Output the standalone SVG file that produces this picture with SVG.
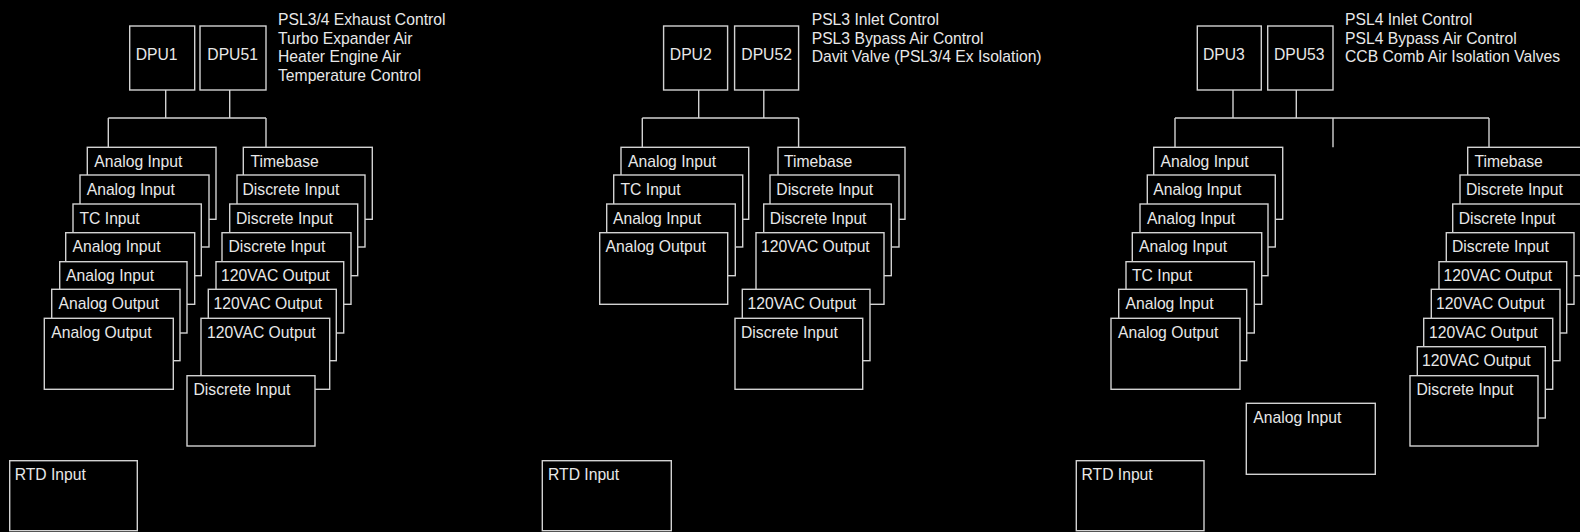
<svg xmlns="http://www.w3.org/2000/svg" width="1580" height="532" viewBox="0 0 1580 532">
<style>
.b{fill:#000;stroke:#d2d2d2;stroke-width:1.4}
.c{fill:none;stroke:#d2d2d2;stroke-width:1.4}
text{font-family:"Liberation Sans",Arial,sans-serif;font-size:15.7px;fill:#e8e8e8}
</style>
<rect x="0" y="0" width="1580" height="532" fill="#000"/>
<g id="connectors">
<path class="c" d="M165.7 90V118M229.7 90V118M108.3 118H266M108.3 118V147.3M266 118V147.3"/>
<path class="c" d="M698.7 90V118M763.8 90V118M642.3 118H798.6M642.3 118V147.3M798.6 118V147.3"/>
<path class="c" d="M1233 90V118M1296.3 90V118M1175 118H1489M1175 118V147.3M1333 118V147.3M1489 118V147.3"/>
</g>
<g id="sec1">
<g id="dpu1"><rect class="b" x="129.7" y="26" width="65" height="64"/><text x="135.7" y="60">DPU1</text></g>
<g id="dpu51"><rect class="b" x="200" y="26" width="66" height="64"/><text x="207.3" y="60">DPU51</text></g>
<g id="desc1"><text x="278" y="25">PSL3/4 Exhaust Control</text><text x="278" y="43.7">Turbo Expander Air</text><text x="278" y="62.4">Heater Engine Air</text><text x="278" y="81">Temperature Control</text></g>
<g id="s1a1"><rect class="b" x="87.3" y="147.3" width="128.7" height="72"/><text x="94.3" y="166.7">Analog Input</text></g>
<g id="s1a2"><rect class="b" x="80" y="175" width="129" height="72"/><text x="86.7" y="194.5">Analog Input</text></g>
<g id="s1a3"><rect class="b" x="73" y="204" width="128.3" height="71.7"/><text x="79.5" y="223.5">TC Input</text></g>
<g id="s1a4"><rect class="b" x="65.7" y="232.7" width="129" height="71.6"/><text x="72.5" y="252">Analog Input</text></g>
<g id="s1a5"><rect class="b" x="59.7" y="261.7" width="127.3" height="71.3"/><text x="66" y="280.8">Analog Input</text></g>
<g id="s1a6"><rect class="b" x="51.7" y="289.3" width="128.3" height="71.4"/><text x="58.5" y="308.8">Analog Output</text></g>
<g id="s1a7"><rect class="b" x="44.3" y="318.3" width="129" height="71"/><text x="51.3" y="337.6">Analog Output</text></g>
<g id="s1b1"><rect class="b" x="243.3" y="147.3" width="129" height="72"/><text x="250.5" y="166.7">Timebase</text></g>
<g id="s1b2"><rect class="b" x="237" y="175" width="128" height="72"/><text x="242.5" y="194.5">Discrete Input</text></g>
<g id="s1b3"><rect class="b" x="229.7" y="204" width="128" height="71.7"/><text x="236" y="223.5">Discrete Input</text></g>
<g id="s1b4"><rect class="b" x="222" y="232.7" width="129" height="71.6"/><text x="228.5" y="252">Discrete Input</text></g>
<g id="s1b5"><rect class="b" x="216" y="261.7" width="127.7" height="71.3"/><text x="221" y="280.8">120VAC Output</text></g>
<g id="s1b6"><rect class="b" x="208.3" y="289.3" width="128" height="71.4"/><text x="213.5" y="308.8">120VAC Output</text></g>
<g id="s1b7"><rect class="b" x="201" y="318.3" width="128.7" height="71"/><text x="207" y="337.6">120VAC Output</text></g>
<g id="s1b8"><rect class="b" x="187" y="375.7" width="128" height="70.3"/><text x="193.5" y="394.8">Discrete Input</text></g>
<g id="rtd1"><rect class="b" x="9.7" y="460.7" width="127.6" height="70"/><text x="14.7" y="480">RTD Input</text></g>
</g>
<g id="sec2">
<g id="dpu2"><rect class="b" x="663.6" y="26" width="64" height="64"/><text x="669.8" y="60">DPU2</text></g>
<g id="dpu52"><rect class="b" x="734.6" y="26" width="64" height="64"/><text x="741.3" y="60">DPU52</text></g>
<g id="desc2"><text x="811.7" y="25">PSL3 Inlet Control</text><text x="811.7" y="43.7">PSL3 Bypass Air Control</text><text x="811.7" y="62.4">Davit Valve (PSL3/4 Ex Isolation)</text></g>
<g id="s2a1"><rect class="b" x="621" y="147.3" width="127.7" height="72"/><text x="628" y="166.7">Analog Input</text></g>
<g id="s2a2"><rect class="b" x="613.7" y="175" width="129" height="72"/><text x="620.5" y="194.5">TC Input</text></g>
<g id="s2a3"><rect class="b" x="606.7" y="204" width="128.6" height="71.7"/><text x="613" y="223.5">Analog Input</text></g>
<g id="s2a4"><rect class="b" x="599.7" y="232.7" width="128" height="71.6"/><text x="605.5" y="252">Analog Output</text></g>
<g id="s2b1"><rect class="b" x="778" y="147.3" width="127" height="72"/><text x="784" y="166.7">Timebase</text></g>
<g id="s2b2"><rect class="b" x="770" y="175" width="129" height="72"/><text x="776.3" y="194.5">Discrete Input</text></g>
<g id="s2b3"><rect class="b" x="763.7" y="204" width="127.6" height="71.7"/><text x="769.7" y="223.5">Discrete Input</text></g>
<g id="s2b4"><rect class="b" x="756" y="232.7" width="128" height="71.6"/><text x="761" y="252">120VAC Output</text></g>
<g id="s2b5"><rect class="b" x="742.3" y="289.3" width="127.7" height="71.4"/><text x="747.5" y="308.8">120VAC Output</text></g>
<g id="s2b6"><rect class="b" x="735" y="318.3" width="127.7" height="71"/><text x="741" y="337.6">Discrete Input</text></g>
<g id="rtd2"><rect class="b" x="542.3" y="460.7" width="129" height="70"/><text x="548" y="480">RTD Input</text></g>
</g>
<g id="sec3">
<g id="dpu3"><rect class="b" x="1197.3" y="26" width="64" height="64"/><text x="1203" y="60">DPU3</text></g>
<g id="dpu53"><rect class="b" x="1267.7" y="26" width="65.3" height="64"/><text x="1274" y="60">DPU53</text></g>
<g id="desc3"><text x="1345" y="25">PSL4 Inlet Control</text><text x="1345" y="43.7">PSL4 Bypass Air Control</text><text x="1345" y="62.4">CCB Comb Air Isolation Valves</text></g>
<g id="s3a1"><rect class="b" x="1153.7" y="147.3" width="129" height="72"/><text x="1160.5" y="166.7">Analog Input</text></g>
<g id="s3a2"><rect class="b" x="1147.3" y="175" width="128" height="72"/><text x="1153.3" y="194.5">Analog Input</text></g>
<g id="s3a3"><rect class="b" x="1140" y="204" width="128" height="71.7"/><text x="1147" y="223.5">Analog Input</text></g>
<g id="s3a4"><rect class="b" x="1132.3" y="232.7" width="129.4" height="71.6"/><text x="1139" y="252">Analog Input</text></g>
<g id="s3a5"><rect class="b" x="1126" y="261.7" width="128.3" height="71.3"/><text x="1132" y="280.8">TC Input</text></g>
<g id="s3a6"><rect class="b" x="1118.7" y="289.3" width="128" height="71.4"/><text x="1125.5" y="308.8">Analog Input</text></g>
<g id="s3a7"><rect class="b" x="1111" y="318.3" width="129" height="71"/><text x="1118" y="337.6">Analog Output</text></g>
<g id="s3c"><rect class="b" x="1246.3" y="403.3" width="129" height="71"/><text x="1253.3" y="423.3">Analog Input</text></g>
<g id="s3b1"><rect class="b" x="1467.7" y="147.3" width="128.5" height="72"/><text x="1474.5" y="166.7">Timebase</text></g>
<g id="s3b2"><rect class="b" x="1460" y="175" width="128.5" height="72"/><text x="1466" y="194.5">Discrete Input</text></g>
<g id="s3b3"><rect class="b" x="1452.7" y="204" width="128.5" height="71.7"/><text x="1458.7" y="223.5">Discrete Input</text></g>
<g id="s3b4"><rect class="b" x="1446.3" y="232.7" width="127.7" height="71.6"/><text x="1452" y="252">Discrete Input</text></g>
<g id="s3b5"><rect class="b" x="1439" y="261.7" width="127.7" height="71.3"/><text x="1443.5" y="280.8">120VAC Output</text></g>
<g id="s3b6"><rect class="b" x="1431.3" y="289.3" width="128.7" height="71.4"/><text x="1436" y="308.8">120VAC Output</text></g>
<g id="s3b7"><rect class="b" x="1423.7" y="318.3" width="129" height="71"/><text x="1429" y="337.6">120VAC Output</text></g>
<g id="s3b8"><rect class="b" x="1417.3" y="346.7" width="128" height="71.3"/><text x="1422" y="366">120VAC Output</text></g>
<g id="s3b9"><rect class="b" x="1410" y="375.7" width="128" height="70.3"/><text x="1416.5" y="394.8">Discrete Input</text></g>
<g id="rtd3"><rect class="b" x="1076.3" y="460.7" width="127.7" height="70"/><text x="1081.5" y="480">RTD Input</text></g>
</g>
</svg>
